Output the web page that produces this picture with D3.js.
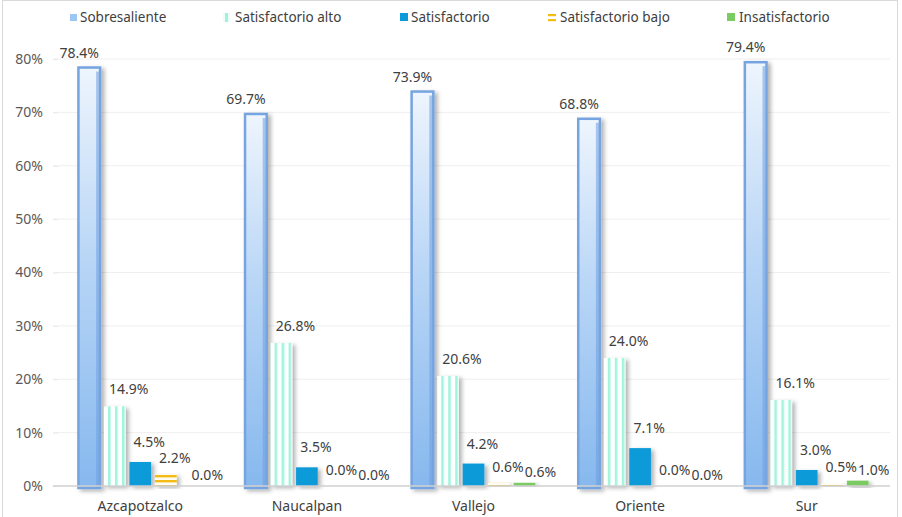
<!DOCTYPE html>
<html>
<head>
<meta charset="utf-8">
<script src="https://cdn.jsdelivr.net/npm/d3@7"></script>
<style>
  body { margin: 0; background: #fff; }
  svg { display: block; font-family: "Noto Sans", "Open Sans", sans-serif; }
</style>
</head>
<body>
<svg id="chart" width="902" height="517"></svg>
<script>
// data
const categories = ["Azcapotzalco", "Naucalpan", "Vallejo", "Oriente", "Sur"];
const seriesNames = ["Sobresaliente", "Satisfactorio alto", "Satisfactorio", "Satisfactorio bajo", "Insatisfactorio"];
const sobresaliente = [78.4, 69.7, 73.9, 68.8, 79.4];
const satisfactorioAlto = [14.9, 26.8, 20.6, 24.0, 16.1];
const satisfactorio = [4.5, 3.5, 4.2, 7.1, 3.0];
const satisfactorioBajo = [2.2, 0.0, 0.6, 0.0, 0.5];
const insatisfactorio = [0.0, 0.0, 0.6, 0.0, 1.0];
const yTicks = [0, 10, 20, 30, 40, 50, 60, 70, 80];

const values = [sobresaliente, satisfactorioAlto, satisfactorio, satisfactorioBajo, insatisfactorio];

var svg = d3.select("#chart");
var W = 902, H = 517;

// outer frame
svg.append("rect")
  .attr("x", 2.5).attr("y", 0.5)
  .attr("width", 895).attr("height", H + 2)
  .attr("fill", "#fff")
  .attr("stroke", "#d9d9d9");

var defs = svg.append("defs");

var grad = defs.append("linearGradient")
  .attr("id", "gSob").attr("x1", 0).attr("y1", 0).attr("x2", 0).attr("y2", 1);
grad.append("stop").attr("offset", "0%").attr("stop-color", "#eef5fd");
grad.append("stop").attr("offset", "45%").attr("stop-color", "#b9d6f6");
grad.append("stop").attr("offset", "100%").attr("stop-color", "#86b8ee");

// vertical stripes
var pAlto = defs.append("pattern")
  .attr("id", "pAlto").attr("patternUnits", "userSpaceOnUse")
  .attr("width", 7).attr("height", 7);
pAlto.append("rect").attr("width", 7).attr("height", 7).attr("fill", "#fbfffe");
pAlto.append("rect").attr("x", 2).attr("width", 2.6).attr("height", 7).attr("fill", "#a4f3dd");

// horizontal stripes
var pBajo = defs.append("pattern")
  .attr("id", "pBajo").attr("patternUnits", "userSpaceOnUse")
  .attr("width", 5).attr("height", 5);
pBajo.append("rect").attr("width", 5).attr("height", 5).attr("fill", "#fffdf3");
pBajo.append("rect").attr("y", 0).attr("width", 5).attr("height", 2.4).attr("fill", "#f3bd12");

var shadow = defs.append("filter").attr("id", "shadow")
  .attr("x", "-50%").attr("y", "-10%").attr("width", "200%").attr("height", "130%");
shadow.append("feDropShadow")
  .attr("dx", 3).attr("dy", 2).attr("stdDeviation", 2)
  .attr("flood-color", "#000").attr("flood-opacity", 0.3);

var fills = ["url(#gSob)", "url(#pAlto)", "#0c9ad8", "url(#pBajo)", "#7ccb62"];
var strokes = ["#76a4e0", "none", "none", "none", "none"];
// label offsets from bar centre / bar top (labels were hand-placed in the original)
var labelDx = [-10, 14, 9, 9, 16];
var labelDy = [-10, -12, -15, -11, -6];

var x0 = d3.scaleBand().domain(categories).range([57, 890]).padding(0);
var x1 = d3.scaleBand().domain(seriesNames).range([0, x0.bandwidth()])
  .paddingInner(0.15).paddingOuter(0.84);
var y = d3.scaleLinear().domain([0, 80]).range([486, 59]);

// gridlines
svg.append("g")
  .selectAll("line")
  .data(yTicks.slice(1))
  .enter()
  .append("line")
  .attr("x1", 53).attr("x2", 890)
  .attr("y1", d => y(d)).attr("y2", d => y(d))
  .attr("stroke", "#efefef");

// y axis
var yAxis = svg.append("g")
  .call(d3.axisLeft(y).tickValues(yTicks).tickFormat(d => d + "%").tickSize(5).tickPadding(10))
  .attr("transform", "translate(58,0)");
yAxis.select(".domain").remove();
yAxis.selectAll(".tick line").attr("stroke", "#e8e8e8");
yAxis.selectAll("text")
  .attr("font-family", "Noto Sans")
  .attr("font-size", 14)
  .attr("fill", "#595959");

// bars
var groups = svg.append("g")
  .selectAll("g")
  .data(categories)
  .enter()
  .append("g")
  .attr("transform", d => "translate(" + x0(d) + ",0)");

var bars = groups.selectAll("rect")
  .data((c, ci) => seriesNames.map((s, si) => ({ s: s, si: si, v: values[si][ci] })))
  .enter();

bars.append("rect")
  .filter(d => d.v > 0)
  .attr("x", d => x1(d.s))
  .attr("y", d => y(d.v))
  .attr("width", x1.bandwidth())
  .attr("height", d => y(0) - y(d.v) + (d.si === 0 ? 2 : 0))
  .attr("fill", d => fills[d.si])
  .attr("stroke", d => strokes[d.si])
  .attr("stroke-width", d => d.si === 0 ? 2.5 : 0)
  .attr("filter", "url(#shadow)");

// darker right edge on the Sobresaliente bars
groups.append("rect")
  .attr("x", x1(seriesNames[0]) + x1.bandwidth() - 4)
  .attr("y", (c, ci) => y(sobresaliente[ci]) + 4)
  .attr("width", 3)
  .attr("height", (c, ci) => y(0) - y(sobresaliente[ci]) - 2)
  .attr("fill", "#6d9fe0")
  .attr("opacity", 0.55);

// x axis line
svg.append("line")
  .attr("x1", 53).attr("x2", 890)
  .attr("y1", y(0)).attr("y2", y(0))
  .attr("stroke", "#d0d0d0").attr("stroke-width", 1.5);

// value labels
groups.selectAll("text.val")
  .data((c, ci) => seriesNames.map((s, si) => ({ s: s, si: si, v: values[si][ci] })))
  .enter()
  .append("text")
  .attr("class", "val")
  .attr("x", d => x1(d.s) + x1.bandwidth() / 2 + labelDx[d.si])
  .attr("y", d => y(d.v) + labelDy[d.si])
  .attr("text-anchor", "middle")
  .attr("font-size", 14)
  .attr("fill", "#404040")
  .text(d => d.v.toFixed(1) + "%");

// category labels
svg.append("g")
  .selectAll("text")
  .data(categories)
  .enter()
  .append("text")
  .attr("x", d => x0(d) + x0.bandwidth() / 2)
  .attr("y", 511)
  .attr("text-anchor", "middle")
  .attr("font-size", 14)
  .attr("fill", "#404040")
  .text(d => d);

// legend
var legendX = [70, 224, 400, 548, 727];
var legend = svg.append("g")
  .selectAll("g")
  .data(seriesNames)
  .enter()
  .append("g")
  .attr("transform", (d, i) => "translate(" + legendX[i] + ",0)");

legend.each(function(d, i) {
  var g = d3.select(this);
  if (i === 0) {
    g.append("rect").attr("x", 0).attr("y", 14).attr("width", 7).attr("height", 7).attr("fill", "#9ec6f3");
  } else if (i === 1) {
    g.append("rect").attr("x", -1).attr("y", 13).attr("width", 7).attr("height", 9).attr("fill", "#effdf9");
    g.append("rect").attr("x", 1).attr("y", 13).attr("width", 3).attr("height", 9).attr("fill", "#9ff2dc");
  } else if (i === 2) {
    g.append("rect").attr("x", 0).attr("y", 13).attr("width", 8).attr("height", 8).attr("fill", "#0c9ad8");
  } else if (i === 3) {
    g.append("rect").attr("x", 0).attr("y", 14).attr("width", 8).attr("height", 2.2).attr("fill", "#f3bd12");
    g.append("rect").attr("x", 0).attr("y", 19).attr("width", 8).attr("height", 2.2).attr("fill", "#f3bd12");
  } else {
    g.append("rect").attr("x", 0).attr("y", 13).attr("width", 8).attr("height", 8).attr("fill", "#7ccb62");
  }
});

legend.append("text")
  .attr("x", (d, i) => [10, 11, 11, 12, 12][i])
  .attr("y", 22)
  .attr("font-size", 13.5)
  .attr("fill", "#404040")
  .text(d => d);
</script>
</body>
</html>
